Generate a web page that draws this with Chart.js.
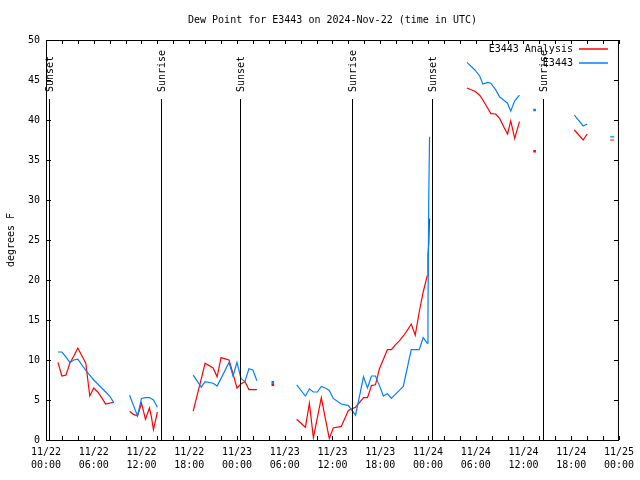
<!DOCTYPE html>
<html>
<head>
<meta charset="utf-8">
<script src="https://cdn.jsdelivr.net/npm/chart.js@4.4.1/dist/chart.umd.min.js"></script>
<style>
  body { margin: 0; background: #fff; }
  canvas { display: block; }
</style>
</head>
<body>
<canvas id="chart_dewpoint" width="640" height="480"></canvas>
<script>
// Hours since 2024-11-22 00:00 UTC; null values break the lines
const hours = [
    1.5, 2.0, 2.5, 3.0, 3.5, 4.0, 5.0, 5.5, 6.0, 6.5, 7.0, 7.5, 8.0, 8.5,
    9.5,
    10.5, 11.0, 11.5, 12.0, 12.5, 13.0, 13.25, 13.5, 14.0,
    16.0,
    18.5, 19.5, 20.0, 21.0, 21.5, 22.0, 23.0, 23.5, 24.0, 24.5, 25.0, 25.5, 26.0, 26.5,
    27.5, 28.5, 29.5,
    31.5, 32.6, 33.1, 33.6, 34.1, 34.6, 35.1, 35.6, 36.1, 37.1, 38.0, 38.9, 39.9, 40.4,
    40.9, 41.4, 41.9, 42.4, 42.9, 43.4, 43.9, 44.4, 44.9, 45.4, 45.9, 46.4, 46.9, 47.4,
    47.9, 48.0, 48.1, 48.2,
    50.0,
    52.9, 53.9, 54.5, 54.9, 55.5, 55.9, 56.5, 57.0, 57.6, 58.0, 58.4, 58.9, 59.5,
    60.5, 61.4, 62.5,
    66.4, 67.5, 68.0,
    69.5,
    70.9, 71.4
];
const analysis = [
    9.7, 8.0, 8.1, 9.6, 10.5, 11.5, 9.6, 5.5, 6.5, 6.0, 5.3, 4.5, 4.6, 4.75,
    null,
    3.6, 3.2, 3.0, 4.6, 2.6, 4.0, 2.9, 1.3, 3.5,
    null,
    3.6, 7.6, 9.6, 9.0, 7.9, 10.3, 10.0, 8.3, 6.5, 7.0, 7.3, 6.3, 6.3, 6.3,
    null, 6.9, null,
    2.6, 1.6, 4.6, 0.3, 2.8, 5.3, 2.7, 0.2, 1.5, 1.7, 3.7, 4.1, 5.3, 5.3,
    6.8, 6.9, 8.9, 10.1, 11.3, 11.3, 11.9, 12.4, 13.0, 13.7, 14.5, 13.1, 16.0, 18.5,
    20.5, 23.2, 24.5, 27.7,
    null,
    44.0, 43.6, 43.1, 42.5, 41.5, 40.8, 40.75, 40.2, 39.0, 38.25, 39.9, 37.7, 39.8,
    null, 36.1, null,
    38.75, 37.5, 38.25,
    null,
    37.5, 37.5
];
const observed = [
    11.0, 11.0, 10.4, 9.7, 10.0, 10.1, 8.7, 8.1, 7.5, 7.0, 6.5, 6.0, 5.5, 4.7,
    null,
    5.6, 4.3, 3.0, 5.2, 5.3, 5.3, 5.15, 5.0, 4.1,
    null,
    8.1, 6.6, 7.3, 7.1, 6.75, 7.7, 9.7, 8.0, 9.7, 7.7, 7.3, 8.9, 8.75, 7.4,
    null, 7.2, null,
    6.9, 5.5, 6.4, 6.0, 6.0, 6.7, 6.5, 6.2, 5.2, 4.5, 4.3, 3.1, 7.9, 6.5,
    8.0, 8.0, 6.8, 5.5, 5.8, 5.2, 5.7, 6.2, 6.7, 9.0, 11.3, 11.3, 11.3, 12.8,
    12.1, 15.9, 30.4, 37.9,
    null,
    47.2, 46.25, 45.5, 44.5, 44.7, 44.6, 43.8, 42.9, 42.4, 42.1, 41.1, 42.4, 43.1,
    null, 41.25, null,
    40.6, 39.25, 39.5,
    null,
    37.9, 37.9
];

// Sunrise / sunset markers
const eventHours = [0.4, 14.5, 24.4, 38.4, 48.5, 62.4];
const eventNames = ['Sunset', 'Sunrise', 'Sunset', 'Sunrise', 'Sunset', 'Sunrise'];

const seriesNames = ['E3443 Analysis', 'E3443'];
const seriesColors = ['rgb(255, 0, 0)', 'rgb(0, 128, 255)'];

const FONT = '"DejaVu Sans Mono", monospace';

function toPoints(values) {
    return hours.map((h, i) => ({x: h, y: values[i]}));
}

// show single readings that sit between two gaps
function isolatedRadius(ctx) {
    let d = ctx.dataset.data;
    let i = ctx.dataIndex;
    if (d[i].y === null) return 0;
    let prev = i > 0 ? d[i - 1].y : null;
    let next = i < d.length - 1 ? d[i + 1].y : null;
    return (prev === null && next === null) ? 1 : 0;
}

function tickLabel(value) {
    let day = 22 + Math.floor(value / 24);
    let hh = value % 24;
    return ['11/' + day, (hh < 10 ? '0' : '') + hh + ':00'];
}

// border, inward ticks, sun events and legend, gnuplot style
const framePlugin = {
    id: 'frame',
    afterDatasetsDraw(chart) {
        let ctx = chart.ctx;
        let a = chart.chartArea;
        let x = chart.scales.x;
        let y = chart.scales.y;
        ctx.save();
        ctx.strokeStyle = '#000';
        ctx.lineWidth = 1;

        ctx.beginPath();
        for (let h = 0; h <= 72; h += 2) {
            let px = Math.round(x.getPixelForValue(h)) + 0.5;
            ctx.moveTo(px, a.bottom);
            ctx.lineTo(px, a.bottom - 4);
            ctx.moveTo(px, a.top);
            ctx.lineTo(px, a.top + 4);
        }
        for (let v = 0; v <= 50; v += 5) {
            let py = Math.round(y.getPixelForValue(v)) + 0.5;
            ctx.moveTo(a.left, py);
            ctx.lineTo(a.left + 5, py);
            ctx.moveTo(a.right, py);
            ctx.lineTo(a.right - 5, py);
        }
        ctx.stroke();

        // sunrise / sunset lines
        ctx.font = '10px ' + FONT;
        ctx.fillStyle = '#000';
        eventHours.forEach((h, i) => {
            let px = Math.round(x.getPixelForValue(h)) + 0.5;
            ctx.beginPath();
            ctx.moveTo(px, a.top + 59);
            ctx.lineTo(px, a.bottom);
            ctx.stroke();
            ctx.save();
            ctx.translate(px + 1, a.top + 52);
            ctx.rotate(-Math.PI / 2);
            ctx.textAlign = 'left';
            ctx.textBaseline = 'middle';
            ctx.fillText(eventNames[i], 0, 0);
            ctx.restore();
        });

        // legend
        ctx.textAlign = 'right';
        ctx.textBaseline = 'middle';
        seriesNames.forEach((name, i) => {
            let ly = a.top + 9 + i * 14;
            ctx.fillStyle = '#000';
            ctx.fillText(name, a.right - 46, ly);
            ctx.strokeStyle = seriesColors[i];
            ctx.lineWidth = 1.5;
            ctx.beginPath();
            ctx.moveTo(a.right - 40, ly);
            ctx.lineTo(a.right - 11, ly);
            ctx.stroke();
        });

        ctx.strokeStyle = '#000';
        ctx.lineWidth = 1;
        ctx.strokeRect(a.left + 0.5, a.top + 0.5, a.right - a.left - 1, a.bottom - a.top);
        ctx.restore();
    }
};

let chartDewpoint = new Chart(
    document.getElementById('chart_dewpoint'),
    {
        type: 'line',
        data: {
            datasets: [
                {
                    label: seriesNames[0],
                    borderColor: seriesColors[0],
                    backgroundColor: seriesColors[0],
                    borderWidth: 1.2,
                    data: toPoints(analysis),
                    pointRadius: isolatedRadius,
                    pointStyle: 'rect',
                    order: 2,
                },
                {
                    label: seriesNames[1],
                    borderColor: seriesColors[1],
                    backgroundColor: seriesColors[1],
                    borderWidth: 1.2,
                    data: toPoints(observed),
                    pointRadius: isolatedRadius,
                    pointStyle: 'rect',
                    order: 1,
                },
            ]
        },
        options: {
            responsive: false,
            animation: false,
            devicePixelRatio: 1,
            spanGaps: false,
            layout: {
                padding: {left: 0, right: 17, top: 0, bottom: 0},
            },
            scales: {
                x: {
                    type: 'linear',
                    min: 0,
                    max: 72,
                    afterFit: scale => { scale.height = 40; },
                    grid: {display: false, drawTicks: false},
                    border: {display: false},
                    ticks: {
                        stepSize: 6,
                        autoSkip: false,
                        maxRotation: 0,
                        padding: 6,
                        color: '#000',
                        font: {family: FONT, size: 10, lineHeight: 1.3},
                        callback: tickLabel,
                    },
                },
                y: {
                    min: 0,
                    max: 50,
                    afterFit: scale => { scale.width = 46; },
                    grid: {display: false, drawTicks: false},
                    border: {display: false},
                    ticks: {
                        stepSize: 5,
                        padding: 6,
                        color: '#000',
                        font: {family: FONT, size: 10},
                    },
                    title: {
                        display: true,
                        text: 'degrees F',
                        color: '#000',
                        padding: {top: 5, bottom: 0},
                        font: {family: FONT, size: 10},
                    },
                },
            },
            plugins: {
                title: {
                    display: true,
                    text: 'Dew Point for E3443 on 2024-Nov-22 (time in UTC)',
                    color: '#000',
                    fullSize: false,
                    padding: {top: 14, bottom: 14},
                    font: {family: FONT, size: 10, weight: 'normal'},
                },
                legend: {
                    display: false,
                },
                tooltip: {
                    enabled: false,
                },
            },
        },
        plugins: [framePlugin],
    }
);
</script>
</body>
</html>
